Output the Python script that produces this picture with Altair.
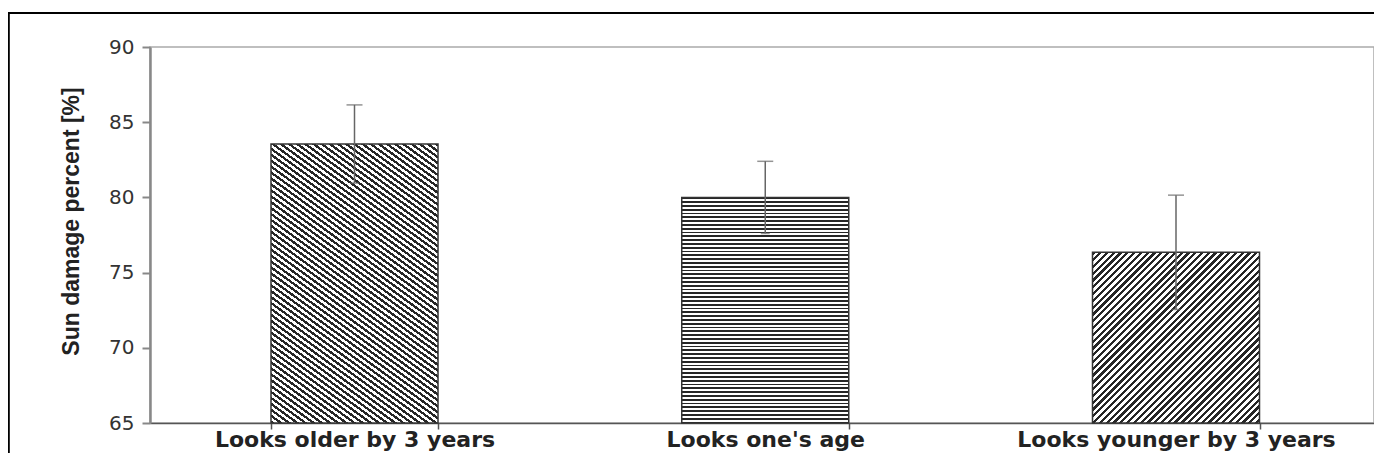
import math
import altair as alt
import pandas as pd

# ---- data ----
categories = ["Looks older by 3 years", "Looks one's age", "Looks younger by 3 years"]
means = [83.55, 80.0, 76.35]
errors = [2.6, 2.4, 3.8]
y_ticks = [65, 70, 75, 80, 85, 90]

# ---- style / layout constants ----
CANVAS_W, CANVAS_H = 1366, 445
PAD_L, PAD_T = 142, 39
PLOT_H = 376
PLOT_W = CANVAS_W - PAD_L
PAD_R = 0
PAD_B = CANVAS_H - PAD_T - PLOT_H
Y_MIN, Y_MAX = 65, 90
STEP_TARGET, BAR_W_TARGET, FIRST_BAR_OFFSET = 410.75, 167.0, 121.0
hatch_angles = [36, 0, -45]      # stripe direction, degrees (screen coords, y down)
hatch_periods = [4.8, 3.8, 4.8]  # px between stripes

df = pd.DataFrame({"cat": categories, "mean": means, "err": errors})
df["lo"] = df["mean"] - df["err"]
df["hi"] = df["mean"] + df["err"]

n = len(categories)
PAD_IN = 1 - BAR_W_TARGET / STEP_TARGET
PAD_OUT = (PLOT_W / STEP_TARGET - n + PAD_IN) / 2
ALIGN = FIRST_BAR_OFFSET / (PLOT_W - STEP_TARGET * (n - PAD_IN))
bar_w = BAR_W_TARGET


def hatch(w, h, angle, period, dark="#262626", light="#ffffff", frac=0.48):
    a = math.radians(angle)
    nx, ny = -math.sin(a), math.cos(a)
    corners = [(0, 0), (w, 0), (0, h), (w, h)]
    proj = [x * nx + y * ny for x, y in corners]
    i0 = proj.index(min(proj))
    L = max(proj) - min(proj)
    ca, cb = w * nx / L, h * ny / L
    s = ca * ca + cb * cb
    dx, dy = ca / s, cb / s
    x1, y1 = corners[i0][0] / w, corners[i0][1] / h
    N = L / period
    stops = []
    k = 0
    while k / N < 1:
        o0 = k / N
        o1 = min((k + frac) / N, 1.0)
        o2 = min((k + 1) / N, 1.0)
        stops += [
            {"offset": round(o0, 5), "color": dark},
            {"offset": round(o1, 5), "color": dark},
            {"offset": round(o1, 5), "color": light},
            {"offset": round(o2, 5), "color": light},
        ]
        k += 1
    return {"gradient": "linear", "x1": x1, "y1": y1, "x2": x1 + dx, "y2": y1 + dy, "stops": stops}


x_axis = alt.Axis(
    title=None, labelAngle=0, labelFont="DejaVu Sans", labelFontWeight="bold",
    labelFontSize=22, labelColor="#222222", labelPadding=0, labelLimit=0,
    tickBand="extent", tickSize=6, tickColor="#555555", tickWidth=1.5,
    domainColor="#555555", domainWidth=1.5,
)
y_axis = alt.Axis(
    values=y_ticks, grid=False, title="Sun damage percent [%]",
    titleFont="Liberation Sans", titleFontSize=23, titleFontWeight="bold",
    titleColor="#222222", titleAngle=270, titleX=-79, titleY=174,
    titleAlign="center", titleBaseline="middle",
    labelFont="DejaVu Sans", labelFontSize=20, labelColor="#333333", labelPadding=8,
    tickSize=8, tickColor="#888888", tickWidth=2, domainColor="#888888", domainWidth=2.5,
)
y_scale = alt.Scale(domain=[Y_MIN, Y_MAX], nice=False, zero=False)
X = alt.X("cat:N", sort=categories,
          scale=alt.Scale(paddingInner=PAD_IN, paddingOuter=PAD_OUT, align=ALIGN),
          axis=x_axis)

layers = []
for cat, m, ang, per in zip(categories, means, hatch_angles, hatch_periods):
    h = (m - Y_MIN) / (Y_MAX - Y_MIN) * PLOT_H
    layers.append(
        alt.Chart(df)
        .transform_filter(alt.FieldEqualPredicate(field="cat", equal=cat))
        .mark_bar(fill=hatch(bar_w, h, ang, per), stroke="#333333", strokeWidth=1.5)
        .encode(x=X, y=alt.Y("mean:Q", scale=y_scale, axis=y_axis), y2=alt.datum(Y_MIN))
    )

err = alt.Chart(df).mark_rule(color="#666666", strokeWidth=1.5).encode(
    x=X, y=alt.Y("lo:Q", scale=y_scale, axis=y_axis), y2="hi:Q")
cap_hi = alt.Chart(df).mark_tick(color="#666666", thickness=1.5, size=16).encode(
    x=X, y=alt.Y("hi:Q", scale=y_scale, axis=y_axis))
cap_lo = alt.Chart(df).mark_tick(color="#666666", thickness=1.5, size=9).encode(
    x=X, y=alt.Y("lo:Q", scale=y_scale, axis=y_axis))

one = alt.Data(values=[{"k": 1}])
frame_top = alt.Chart(one).mark_rule(color="black", strokeWidth=2).encode(
    x=alt.value(-PAD_L), x2=alt.value(PLOT_W + PAD_R), y=alt.value(5 - PAD_T))
frame_left = alt.Chart(one).mark_rule(color="black", strokeWidth=2).encode(
    x=alt.value(0.8 - PAD_L), y=alt.value(5 - PAD_T), y2=alt.value(CANVAS_H - PAD_T))

chart = (
    alt.layer(*layers, err, cap_hi, cap_lo, frame_top, frame_left)
    .properties(
        width=PLOT_W, height=PLOT_H,
        padding={"left": PAD_L, "top": PAD_T, "right": PAD_R, "bottom": PAD_B},
        autosize=alt.AutoSizeParams(type="none"),
        background="white",
    )
    .configure_view(stroke="#aaaaaa", strokeWidth=1.5)
)

chart.save("out.html", embed_options={"renderer": "svg", "actions": False})
